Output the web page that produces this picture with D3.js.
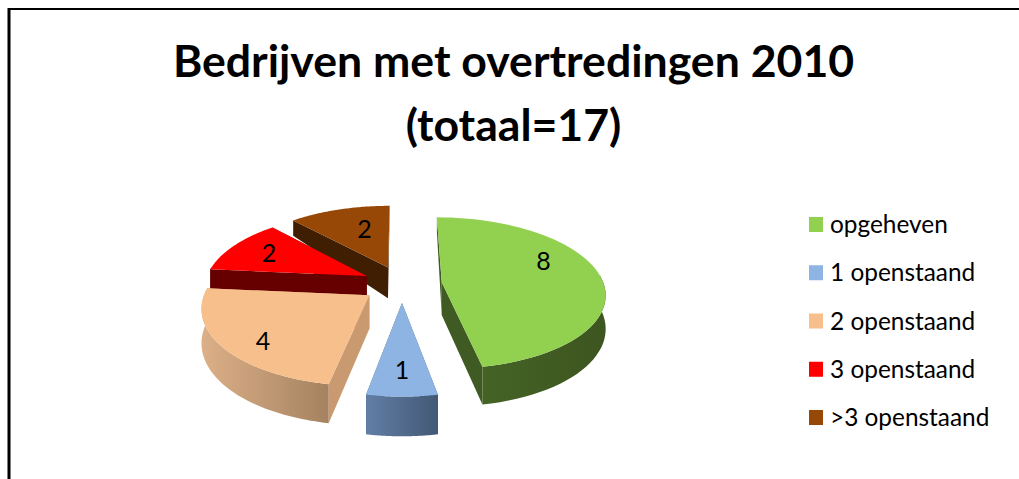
<!DOCTYPE html>
<html>
<head>
<meta charset="utf-8">
<script src="https://cdn.jsdelivr.net/npm/d3@7"></script>
<style>
  html, body { margin: 0; background: #fff; overflow: hidden; }
  svg { display: block; }
  text { font-family: Lato, "Open Sans", sans-serif; fill: #000; }
</style>
</head>
<body>
<svg id="chart" width="1019" height="479"></svg>
<script>
// Data
const titleLines = ["Bedrijven met overtredingen 2010", "(totaal=17)"];
const categories = ["opgeheven", "1 openstaand", "2 openstaand", "3 openstaand", ">3 openstaand"];
const values = [8, 1, 4, 2, 2];

// Colours per slice: top, cut faces, rounded wall left and right
const topColors = ["#92d050", "#8db4e2", "#f7bf8c", "#ff0000", "#974807"];
const faceColors = ["#3f5a22", "#4c6482", "#c99a6f", "#660000", "#3f1e02"];
const wallLeft = ["#456325", "#627ea6", "#dcb088", "#660000", "#3f1e02"];
const wallRight = ["#3d5520", "#435975", "#a58260", "#660000", "#3f1e02"];

// Label placement inside a slice, in degrees clockwise from the top of the pie
const labelAngles = [66, 180, 227, 297, 344];
const labelRadius = [0.73, 0.75, 0.79, 0.73, 0.61];

const svg = d3.select("#chart");
const width = +svg.attr("width");
const height = +svg.attr("height");

// Frame, only on the top and left
svg.append("line")
    .attr("x1", 9).attr("x2", 9)
    .attr("y1", 8).attr("y2", height)
    .attr("stroke", "#000")
    .attr("stroke-width", 3);
svg.append("line")
    .attr("x1", 8).attr("x2", width)
    .attr("y1", 9).attr("y2", 9)
    .attr("stroke", "#000")
    .attr("stroke-width", 2);

// Title
svg.selectAll(".title")
    .data(titleLines)
    .enter().append("text")
    .attr("class", "title")
    .attr("x", 513.5)
    .attr("y", (d, i) => 77 + i * 64)
    .attr("text-anchor", "middle")
    .style("font-size", "44.6px")
    .style("font-weight", 700)
    .text(d => d);

// Perspective view of the pie. The disc has radius 1, u goes right and v goes away from the viewer
const cx = 402, cy = 284;
const scaleU = d3.scaleLinear().domain([0, 1]).range([0, 162]);
const scaleV = d3.scaleLinear().domain([0, 1]).range([0, 74.5]);
const perspective = 0.14;
const explode = 0.247;
const depth = 32.8;

function project(u, v, lowered) {
    const w = 1 + perspective * v;
    const back = Math.max(v, 0);
    const drop = lowered ? depth * (1 - 0.5 * back * back) / w : 0;
    return [cx + scaleU(u) / w, cy - scaleV(v) / w + drop];
}

const line = d3.line();
const slices = d3.pie().sort(null)(values);

const defs = svg.append("defs");
slices.forEach((s, i) => {
    const grad = defs.append("linearGradient").attr("id", "wall" + i);
    grad.append("stop").attr("offset", "0%").attr("stop-color", wallLeft[i]);
    grad.append("stop").attr("offset", "100%").attr("stop-color", wallRight[i]);
});

// Back slices first so the front ones paint over them
const drawOrder = [4, 3, 0, 2, 1];
const pieGroup = svg.append("g").attr("id", "pie");

drawOrder.forEach(i => {
    const s = slices[i];
    const mid = (s.startAngle + s.endAngle) / 2;
    const u0 = explode * Math.sin(mid);
    const v0 = explode * Math.cos(mid);
    const rimAt = a => [u0 + Math.sin(a), v0 + Math.cos(a)];
    const angles = d3.range(0, 61).map(k => s.startAngle + (s.endAngle - s.startAngle) * k / 60);

    const g = pieGroup.append("g");

    // Cut faces
    [s.startAngle, s.endAngle].forEach(a => {
        const [u, v] = rimAt(a);
        g.append("path")
            .attr("d", line([project(u0, v0, false), project(u, v, false), project(u, v, true), project(u0, v0, true)]) + "Z")
            .attr("fill", faceColors[i]);
    });

    // Rounded wall, only the part that faces the viewer
    const front = angles.filter(a => Math.cos(a) < 0.12);
    if (front.length > 1) {
        const upper = front.map(a => project(...rimAt(a), false));
        const lower = front.map(a => project(...rimAt(a), true)).reverse();
        g.append("path")
            .attr("d", line(upper.concat(lower)) + "Z")
            .attr("fill", `url(#wall${i})`);
    }

    // Top surface
    const top = [project(u0, v0, false)].concat(angles.map(a => project(...rimAt(a), false)));
    g.append("path")
        .attr("d", line(top) + "Z")
        .attr("fill", topColors[i]);
});

// Value labels
slices.forEach((s, i) => {
    const mid = (s.startAngle + s.endAngle) / 2;
    const a = labelAngles[i] * Math.PI / 180;
    const [x, y] = project(
        explode * Math.sin(mid) + labelRadius[i] * Math.sin(a),
        explode * Math.cos(mid) + labelRadius[i] * Math.cos(a),
        false
    );
    svg.append("text")
        .attr("x", x)
        .attr("y", y)
        .attr("dy", "0.36em")
        .attr("text-anchor", "middle")
        .style("font-size", "25px")
        .text(values[i]);
});

// Legend
const legendY = d3.scalePoint().domain(categories).range([225, 418]);
const legend = svg.selectAll(".legend")
    .data(categories)
    .enter().append("g")
    .attr("class", "legend")
    .attr("transform", d => `translate(809,${legendY(d)})`);

legend.append("rect")
    .attr("y", -8)
    .attr("width", 14)
    .attr("height", 15)
    .attr("fill", (d, i) => topColors[i]);

legend.append("text")
    .attr("x", 21)
    .attr("dy", "0.33em")
    .style("font-size", "24.4px")
    .text(d => d);
</script>
</body>
</html>
